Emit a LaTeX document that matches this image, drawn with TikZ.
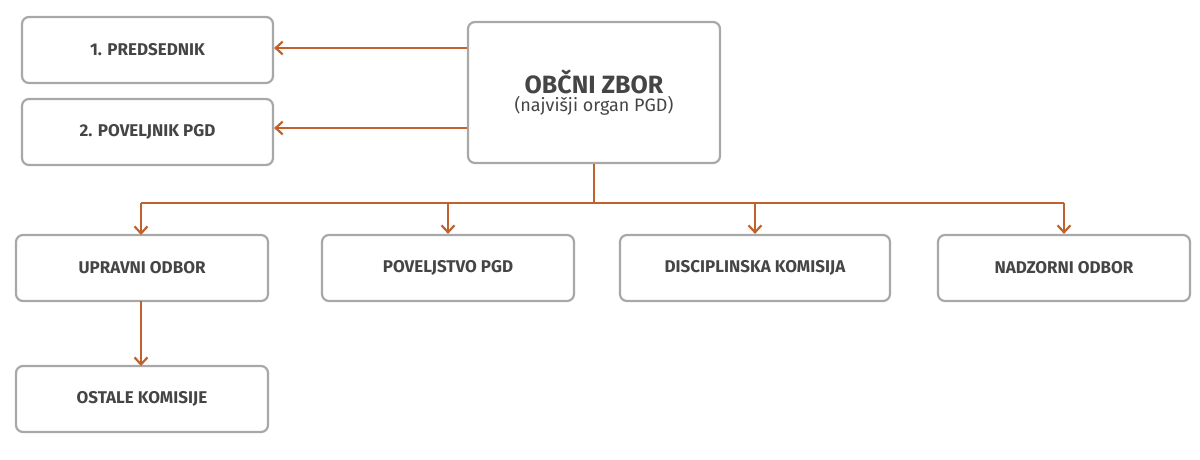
\documentclass[tikz,border=0pt]{standalone}
\usepackage{fontspec}
\setmainfont{Fira Sans}
\usetikzlibrary{arrows.meta}
\definecolor{orng}{HTML}{C0622D}
\definecolor{bord}{HTML}{A8A8A8}
\definecolor{txt}{HTML}{454545}
\begin{document}
\begin{tikzpicture}[x=1pt,y=-1pt,
  box/.style={draw=bord,line width=2.2pt,rounded corners=7pt,text=txt,font=\fontsize{17}{20}\selectfont\bfseries,inner sep=0pt},
  arr/.style={draw=orng,line width=2.2pt,-{Straight Barb[length=7pt,width=13pt]}},
  ln/.style={draw=orng,line width=2.2pt}]
\useasboundingbox (0,0) rectangle (1200,460);
\node[box,minimum width=251pt,minimum height=66pt] (p1) at (147.5,50) {1. PREDSEDNIK};
\node[box,minimum width=251pt,minimum height=66pt] (p2) at (147.5,132) {2. POVELJNIK PGD};
\node[box,minimum width=252pt,minimum height=141pt,align=center] (oz) at (594,92.5)
  {{\fontsize{25}{30}\selectfont OBČNI ZBOR}\\[-2pt]{\fontsize{18}{22}\selectfont\mdseries (najvišji organ PGD)}};
\node[box,minimum width=252pt,minimum height=66pt] (uo) at (142,268) {UPRAVNI ODBOR};
\node[box,minimum width=252pt,minimum height=66pt] (pv) at (448,268) {POVELJSTVO PGD};
\node[box,minimum width=270pt,minimum height=66pt] (dk) at (755,268) {DISCIPLINSKA KOMISIJA};
\node[box,minimum width=252pt,minimum height=66pt] (no) at (1064,268) {NADZORNI ODBOR};
\node[box,minimum width=252pt,minimum height=66pt] (ok) at (142,399) {OSTALE KOMISIJE};
\draw[arr] (oz.west |- 0,48) -- (p1.east |- 0,48);
\draw[arr] (oz.west |- 0,128) -- (p2.east |- 0,128);
\coordinate (j) at (594,203);
\draw[ln] (oz.south) -- (j);
\draw[ln] (141,203) -- (1064,203);
\draw[arr] (141,203) -- (141,235);
\draw[arr] (448,203) -- (pv.north);
\draw[arr] (755,203) -- (dk.north);
\draw[arr] (1064,203) -- (no.north);
\draw[arr] (141,301) -- (141,366);
\end{tikzpicture}
\end{document}
